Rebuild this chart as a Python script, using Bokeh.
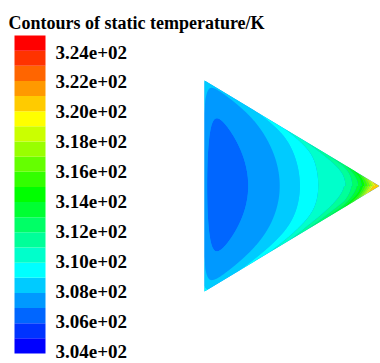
import colorsys
import numpy as np
from bokeh.plotting import figure
from bokeh.models import Range1d
from bokeh.core.properties import value
from bokeh.embed import file_html
from bokeh.resources import INLINE

# ---------------- data ----------------
title_text = "Contours of static temperature/K"
t_low = 304.0          # K, bottom of colour scale
t_high = 325.0         # K, top of colour scale
n_bands = 21
tick_values = [304, 306, 308, 310, 312, 314, 316, 318, 320, 322, 324]
tick_labels = ["3.04e+02", "3.06e+02", "3.08e+02", "3.10e+02", "3.12e+02",
               "3.14e+02", "3.16e+02", "3.18e+02", "3.20e+02", "3.22e+02",
               "3.24e+02"]
# isotherm positions (fraction of length from the left wall)
iso_pos = [0.0, 0.25, 0.43, 0.545, 0.65, 0.806, 0.845, 0.88, 0.90, 0.935, 0.965, 1.0]
iso_temp = [306.3, 307.0, 308.0, 309.0, 310.0, 311.0, 312.0, 313.0, 314.0, 316.0, 318.0, 320.0]

# ---------------- layout (page pixels) ----------------
W, H = 380, 363
CB_LEFT, CB_RIGHT, CB_TOP, CB_BOTTOM = 14, 45, 35, 353
LABEL_X = 55
LABEL_TOP_Y, LABEL_BOTTOM_Y = 51.5, 350.5
TRI_X0, TRI_X1 = 204.0, 379.0
TRI_YC, TRI_HH = 185.5, 105.5

palette = []
for i in range(n_bands):
    h = (240.0 * (1 - i / (n_bands - 1))) / 360.0
    r, g, b = colorsys.hsv_to_rgb(h, 1.0, 1.0)
    palette.append("#%02x%02x%02x" % (int(r * 255), int(g * 255), int(b * 255)))
levels = list(np.linspace(t_low, t_high, n_bands + 1))

p = figure(width=W, height=H, x_range=Range1d(0, W), y_range=Range1d(H, 0),
           x_axis_type=None, y_axis_type=None, toolbar_location=None,
           output_backend="svg", min_border=0, outline_line_color=None)
p.background_fill_color = "white"
p.border_fill_color = "white"

# ---------------- temperature field on the triangle ----------------
u = np.linspace(0.0, 0.997, 420)
t = np.linspace(-1.0, 1.0, 320)
U, Tt = np.meshgrid(u, t)
X = TRI_X0 + U * (TRI_X1 - TRI_X0)
V = Tt * (1 - U)
Y = TRI_YC + V * TRI_HH
k = np.where(Tt < 0, 0.374, 0.40)
S = U + k * V ** 2
T = np.interp(S, iso_pos, iso_temp)
T += 1.2 * np.exp(-U / 0.025)
d = (1 - np.abs(Tt)) * (1 - U) * TRI_HH * 0.857
boost = np.where(Tt < 0, 0.3 + 2.2 * U ** 2, 0.6 + 4.0 * U ** 2)
width = np.where(Tt < 0, 3.0, 4.5)
T += boost * np.exp(-d / width)
T = np.clip(T, t_low + 0.01, 320.9)

# base patch to hide seams
p.patch([TRI_X0, TRI_X1, TRI_X0], [TRI_YC - TRI_HH, TRI_YC, TRI_YC + TRI_HH],
        fill_color=palette[3], line_color=None)
p.contour(X, Y, T, levels=levels, fill_color=palette)

# ---------------- colour bar ----------------
def cb_y(temp):
    return CB_BOTTOM - (temp - t_low) / (t_high - t_low) * (CB_BOTTOM - CB_TOP)

def label_y(temp):
    return LABEL_BOTTOM_Y - (temp - tick_values[0]) / (tick_values[-1] - tick_values[0]) * (LABEL_BOTTOM_Y - LABEL_TOP_Y)

p.quad(left=[CB_LEFT] * n_bands, right=[CB_RIGHT] * n_bands,
       bottom=[cb_y(levels[i]) for i in range(n_bands)],
       top=[cb_y(levels[i + 1]) for i in range(n_bands)],
       fill_color=palette, line_color=None)

p.text(x=[LABEL_X] * len(tick_values), y=[label_y(v) for v in tick_values],
       text=tick_labels, text_font=value("Liberation Serif"), text_font_style="bold",
       text_font_size="19px", text_baseline="middle", text_align="left", text_color="black")

p.text(x=[8], y=[22], text=[title_text], text_font=value("Liberation Serif"),
       text_font_style="bold", text_font_size="18px", text_baseline="alphabetic",
       text_align="left", text_color="black")

open("out.html", "w").write(file_html(p, INLINE))
